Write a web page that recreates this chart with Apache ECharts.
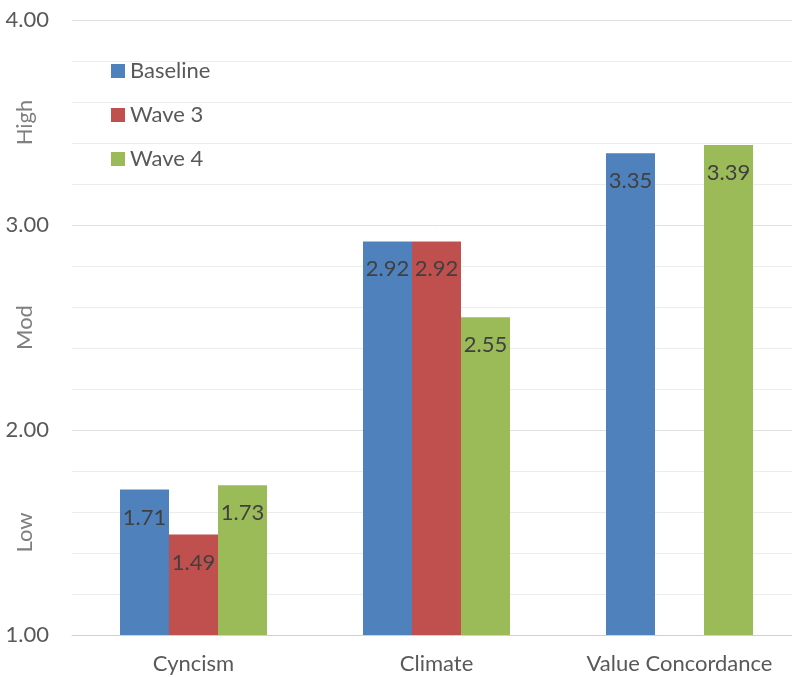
<!DOCTYPE html>
<html><head><meta charset="utf-8">
<script src="https://cdn.jsdelivr.net/npm/echarts@6/dist/echarts.min.js"></script>
<style>html,body{margin:0;padding:0;background:#fff}#c{width:792px;height:677px}</style>
</head><body><div id="c"></div>
<script>
const categories = ['Cyncism', 'Climate', 'Value Concordance'];
const seriesNames = ['Baseline', 'Wave 3', 'Wave 4'];
const baseline = [1.71, 2.92, 3.35];
const wave3 = [1.49, 2.92, null];
const wave4 = [1.73, 2.55, 3.39];
const levelLabels = {1.5: 'Low', 2.5: 'Mod', 3.5: 'High'};
const colors = ['#4F81BD', '#C0504D', '#9BBB59'];

const font = 'Lato, Carlito, "Open Sans", "Noto Sans", sans-serif';
const chart = echarts.init(document.getElementById('c'));
const mk = (name, data, color) => ({
  name, type: 'bar', data, barGap: '0%', barCategoryGap: '39.5%',
  itemStyle: {color},
  label: {show: true, position: 'insideTop', distance: 17, color: '#404040', fontSize: 22, fontFamily: font,
    formatter: p => p.value.toFixed(2)}
});
chart.setOption({
  animation: false,
  color: colors,
  grid: {left: 72, width: 729, top: 20, bottom: 42, outerBoundsMode: 'none', containLabel: false},
  legend: {
    orient: 'vertical', left: 106, top: 55, itemGap: 22, itemWidth: 14, itemHeight: 14,
    icon: 'rect', textStyle: {color: '#595959', fontSize: 22, fontFamily: font},
    data: seriesNames
  },
  xAxis: {
    type: 'category', data: categories,
    axisLine: {lineStyle: {color: '#d0d0d0', width: 1}},
    axisTick: {show: false},
    axisLabel: {color: '#595959', fontSize: 22, fontFamily: font, margin: 18, interval: 0, hideOverlap: false}
  },
  yAxis: [{
    type: 'value', min: 1, max: 4, interval: 1,
    axisLine: {show: false}, axisTick: {show: false},
    axisLabel: {color: '#595959', fontSize: 22, fontFamily: font, margin: 23, formatter: v => v.toFixed(2)},
    splitLine: {lineStyle: {color: '#e0e0e0', width: 1}},
    minorTick: {show: false, splitNumber: 5},
    minorSplitLine: {show: true, lineStyle: {color: '#ececec', width: 1}}
  }, {
    type: 'value', min: 1, max: 4, interval: 0.5, position: 'left', offset: 36,
    axisLine: {show: false}, axisTick: {show: false}, splitLine: {show: false},
    axisLabel: {color: '#7f7f7f', fontSize: 22, fontFamily: font, rotate: 90, align: 'center', verticalAlign: 'bottom', margin: 0,
      formatter: v => levelLabels[v] || ''}
  }],
  series: [mk(seriesNames[0], baseline, colors[0]), mk(seriesNames[1], wave3, colors[1]), mk(seriesNames[2], wave4, colors[2])]
});
</script></body></html>
